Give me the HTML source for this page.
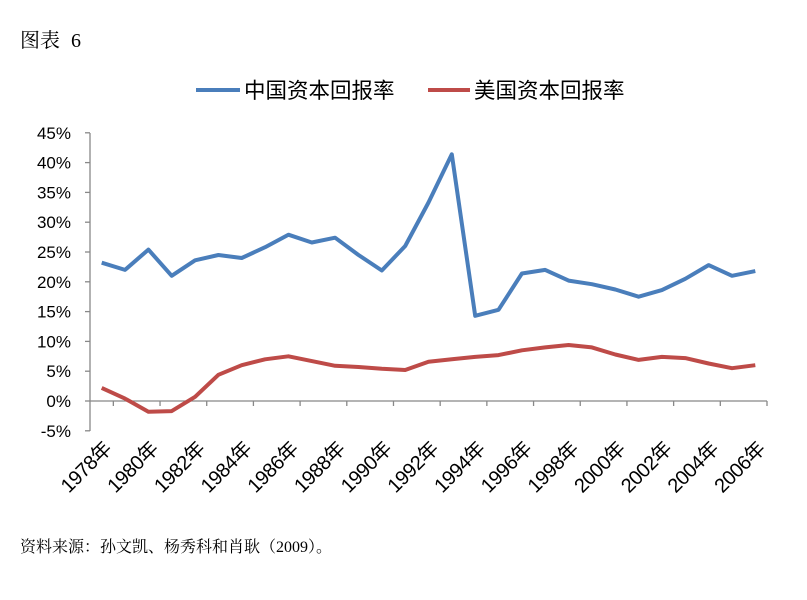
<!DOCTYPE html>
<html><head><meta charset="utf-8"><style>
body{margin:0;background:#fff;width:807px;height:595px;overflow:hidden}
text{font-family:"Liberation Sans","Noto Sans CJK SC",sans-serif}
.s{font-family:"Liberation Serif","Noto Serif CJK SC",serif}
</style></head><body>
<svg width="807" height="595" xmlns="http://www.w3.org/2000/svg">
<text x="20" y="47" font-size="20" class="s" fill="#000">图表 <tspan dx="6">6</tspan></text>
<line x1="196" y1="90" x2="240" y2="90" stroke="#4a7ebb" stroke-width="4"/>
<text x="244" y="98" font-size="21.5" fill="#000">中国资本回报率</text>
<line x1="428" y1="90" x2="470" y2="90" stroke="#be4b48" stroke-width="4"/>
<text x="474" y="98" font-size="21.5" fill="#000">美国资本回报率</text>
<g id="ax" stroke="#888" stroke-width="1.3"></g>
<g id="yl" font-size="17" text-anchor="end" fill="#000"></g>
<g id="xl" font-size="20" text-anchor="end" fill="#000" letter-spacing="-0.5"></g>
<polyline id="cn" fill="none" stroke="#4a7ebb" stroke-width="4" stroke-linejoin="round"/>
<polyline id="us" fill="none" stroke="#be4b48" stroke-width="4" stroke-linejoin="round"/>
<text x="20" y="552" font-size="16" class="s" fill="#000">资料来源：孙文凯、杨秀科和肖耿（2009）。</text>
</svg>
<script>
var NS="http://www.w3.org/2000/svg";
function el(p,t,a,txt){var e=document.createElementNS(NS,t);for(var k in a)e.setAttribute(k,a[k]);if(txt)e.textContent=txt;document.getElementById(p).appendChild(e);}
function Y(v){return 401-v*5.96;}
var sp=(767-90)/29;function X(i){return 90+sp*(i+0.5);}
el("ax","line",{x1:90,y1:133,x2:90,y2:431});
el("ax","line",{x1:90,y1:401,x2:767,y2:401});
for(var v=-5;v<=45;v+=5){el("ax","line",{x1:85,y1:Y(v),x2:90,y2:Y(v)});el("yl","text",{x:71,y:Y(v)+6},v+"%");}
for(var k=1;k<=29;k+=2){var x=90+sp*k;el("ax","line",{x1:x,y1:401,x2:x,y2:406});}
for(var i=0;i<29;i+=2){var x=X(i)+11,y=450;el("xl","text",{x:x,y:y,transform:"rotate(-45 "+x+" "+y+")"},(1978+i)+"年");}
var cn=[23.2,22.0,25.4,21.0,23.6,24.5,24.0,25.8,27.9,26.6,27.4,24.5,21.9,26.0,33.3,41.4,14.3,15.3,21.4,22.0,20.2,19.6,18.7,17.5,18.6,20.5,22.8,21.0,21.8];
var us=[2.2,0.4,-1.8,-1.7,0.7,4.4,6.0,7.0,7.5,6.7,5.9,5.7,5.4,5.2,6.6,7.0,7.4,7.7,8.5,9.0,9.4,9.0,7.8,6.9,7.4,7.2,6.3,5.5,6.0];
function pts(a){return a.map(function(v,i){return X(i).toFixed(1)+","+Y(v).toFixed(1)}).join(" ");}
document.getElementById("cn").setAttribute("points",pts(cn));
document.getElementById("us").setAttribute("points",pts(us));
</script>
</body></html>
